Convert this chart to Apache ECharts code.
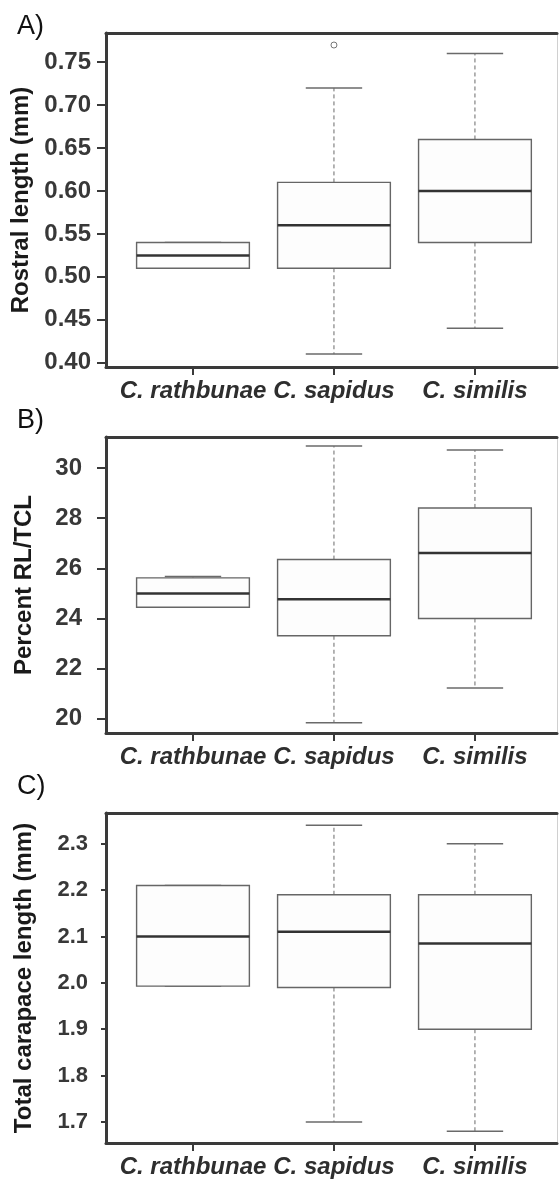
<!DOCTYPE html>
<html>
<head>
<meta charset="utf-8">
<script src="https://cdn.jsdelivr.net/npm/echarts@6/dist/echarts.min.js"></script>
<style>
  html, body { margin: 0; padding: 0; background: #fff; }
  #chart { width: 560px; height: 1184px; }
</style>
</head>
<body>
<div id="chart"></div>
<script>
// ---- data ----
var species = ['C. rathbunae', 'C. sapidus', 'C. similis'];

// [min, Q1, median, Q3, max] per species
var rostralBox = [
  [0.51, 0.51, 0.525, 0.54, 0.54],
  [0.41, 0.51, 0.56, 0.61, 0.72],
  [0.44, 0.54, 0.60, 0.66, 0.76]
];
var rostralOutliers = [[2, 0.77]];
var rostralTicks = [0.40, 0.45, 0.50, 0.55, 0.60, 0.65, 0.70, 0.75];

var percentBox = [
  [24.45, 24.45, 25.0, 25.62, 25.67],
  [19.84, 23.31, 24.77, 26.35, 30.88],
  [21.23, 24.0, 26.61, 28.41, 30.72]
];
var percentTicks = [20, 22, 24, 26, 28, 30];

var carapaceBox = [
  [1.993, 1.993, 2.10, 2.21, 2.21],
  [1.70, 1.99, 2.11, 2.19, 2.34],
  [1.68, 1.90, 2.085, 2.19, 2.30]
];
var carapaceTicks = [1.7, 1.8, 1.9, 2.0, 2.1, 2.2, 2.3];

// ---- helpers ----
function boxData(rows) {
  return rows.map(function (r, i) { return [i + 1].concat(r); });
}

function renderBox(params, api) {
  var x = api.value(0);
  var lo = api.coord([x, api.value(1)]);
  var q1 = api.coord([x, api.value(2)]);
  var md = api.coord([x, api.value(3)]);
  var q3 = api.coord([x, api.value(4)]);
  var hi = api.coord([x, api.value(5)]);
  var bw = api.size([0.8, 0])[0];
  var cw = bw / 2;
  var cx = lo[0];
  var dash = { stroke: '#6a6a6a', lineWidth: 1, lineDash: [4, 3] };
  var cap = { stroke: '#6a6a6a', lineWidth: 1.5 };
  return {
    type: 'group',
    children: [
      { type: 'line', shape: { x1: cx, y1: q3[1], x2: cx, y2: hi[1] }, style: dash },
      { type: 'line', shape: { x1: cx, y1: q1[1], x2: cx, y2: lo[1] }, style: dash },
      { type: 'line', shape: { x1: cx - cw / 2, y1: hi[1], x2: cx + cw / 2, y2: hi[1] }, style: cap },
      { type: 'line', shape: { x1: cx - cw / 2, y1: lo[1], x2: cx + cw / 2, y2: lo[1] }, style: cap },
      { type: 'rect', shape: { x: cx - bw / 2, y: q3[1], width: bw, height: q1[1] - q3[1] },
        style: { fill: '#fdfdfd', stroke: '#666', lineWidth: 1.4 } },
      { type: 'line', shape: { x1: cx - bw / 2, y1: md[1], x2: cx + bw / 2, y2: md[1] },
        style: { stroke: '#333', lineWidth: 2.5 } }
    ]
  };
}

var axisColor = '#3a3a3a';
var panels = [
  { top: 33, height: 334, min: 0.395, max: 0.784, ticks: rostralTicks, dec: 2,
    name: 'Rostral length (mm)', data: rostralBox, tickLen: 9, margin: 15 },
  { top: 437, height: 296, min: 19.43, max: 31.24, ticks: percentTicks, dec: 0,
    name: 'Percent RL/TCL', data: percentBox, tickLen: 9, margin: 24 },
  { top: 813, height: 330, min: 1.6547, max: 2.3663, ticks: carapaceTicks, dec: 1,
    name: 'Total carapace length (mm)', data: carapaceBox, tickLen: 5, margin: 18 }
];

var grid = [], xAxis = [], yAxis = [], series = [];
panels.forEach(function (p, i) {
  grid.push({ left: 106, width: 451, top: p.top, height: p.height });
  // bottom axis with species labels
  xAxis.push({
    type: 'value', gridIndex: i, min: 0.383, max: 3.582, position: 'bottom',
    axisLine: { show: true, lineStyle: { color: axisColor, width: 3 } },
    axisTick: { show: true, customValues: [1, 2, 3], length: 8, lineStyle: { color: axisColor, width: 2 } },
    axisLabel: {
      customValues: [1, 2, 3], margin: 12,
      formatter: function (v) { return species[Math.round(v) - 1]; },
      fontFamily: 'Liberation Sans', fontSize: 24, fontWeight: 'bold', fontStyle: 'italic', color: '#2e2e2e'
    },
    splitLine: { show: false }
  });
  // top frame line
  xAxis.push({
    type: 'value', gridIndex: i, min: 0.383, max: 3.582, position: 'top',
    axisLine: { show: true, lineStyle: { color: axisColor, width: 3 } },
    axisTick: { show: false }, axisLabel: { show: false }, splitLine: { show: false }
  });
  yAxis.push({
    type: 'value', gridIndex: i, min: p.min, max: p.max, position: 'left',
    name: p.name, nameLocation: 'middle', nameGap: 70,
    nameTextStyle: { fontFamily: 'Liberation Sans', fontSize: 24, fontWeight: 'bold', color: '#1a1a1a' },
    axisLine: { show: true, lineStyle: { color: axisColor, width: 3 } },
    axisTick: { show: true, customValues: p.ticks, length: p.tickLen, lineStyle: { color: axisColor, width: 2 } },
    axisLabel: {
      customValues: p.ticks, margin: p.margin,
      formatter: (function (d) { return function (v) { return v.toFixed(d); }; })(p.dec),
      fontFamily: 'Liberation Sans', fontSize: p.dec === 1 ? 22 : 24, fontWeight: 'bold', color: '#383838'
    },
    splitLine: { show: false }
  });
  // faint right frame line
  yAxis.push({
    type: 'value', gridIndex: i, min: p.min, max: p.max, position: 'right',
    axisLine: { show: true, lineStyle: { color: '#d0d0d0', width: 1 } },
    axisTick: { show: false }, axisLabel: { show: false }, splitLine: { show: false }
  });
  series.push({
    type: 'custom', xAxisIndex: 2 * i, yAxisIndex: 2 * i,
    data: boxData(p.data), renderItem: renderBox,
    encode: { x: 0, y: [1, 2, 3, 4, 5] }, silent: true
  });
});

series.push({
  type: 'scatter', xAxisIndex: 0, yAxisIndex: 0, data: rostralOutliers,
  symbol: 'circle', symbolSize: 6, silent: true,
  itemStyle: { color: '#fff', borderColor: '#555', borderWidth: 1 }
});

var labelStyle = { fontFamily: 'Liberation Sans', fontSize: 27, fontWeight: 'normal', color: '#111' };
var chart = echarts.init(document.getElementById('chart'), null, { renderer: 'canvas' });
chart.setOption({
  animation: false,
  backgroundColor: '#fff',
  title: [
    { text: 'A)', left: 12, top: 8, textStyle: labelStyle },
    { text: 'B)', left: 12, top: 402, textStyle: labelStyle },
    { text: 'C)', left: 12, top: 768, textStyle: labelStyle }
  ],
  grid: grid,
  xAxis: xAxis,
  yAxis: yAxis,
  series: series
});
</script>
</body>
</html>
